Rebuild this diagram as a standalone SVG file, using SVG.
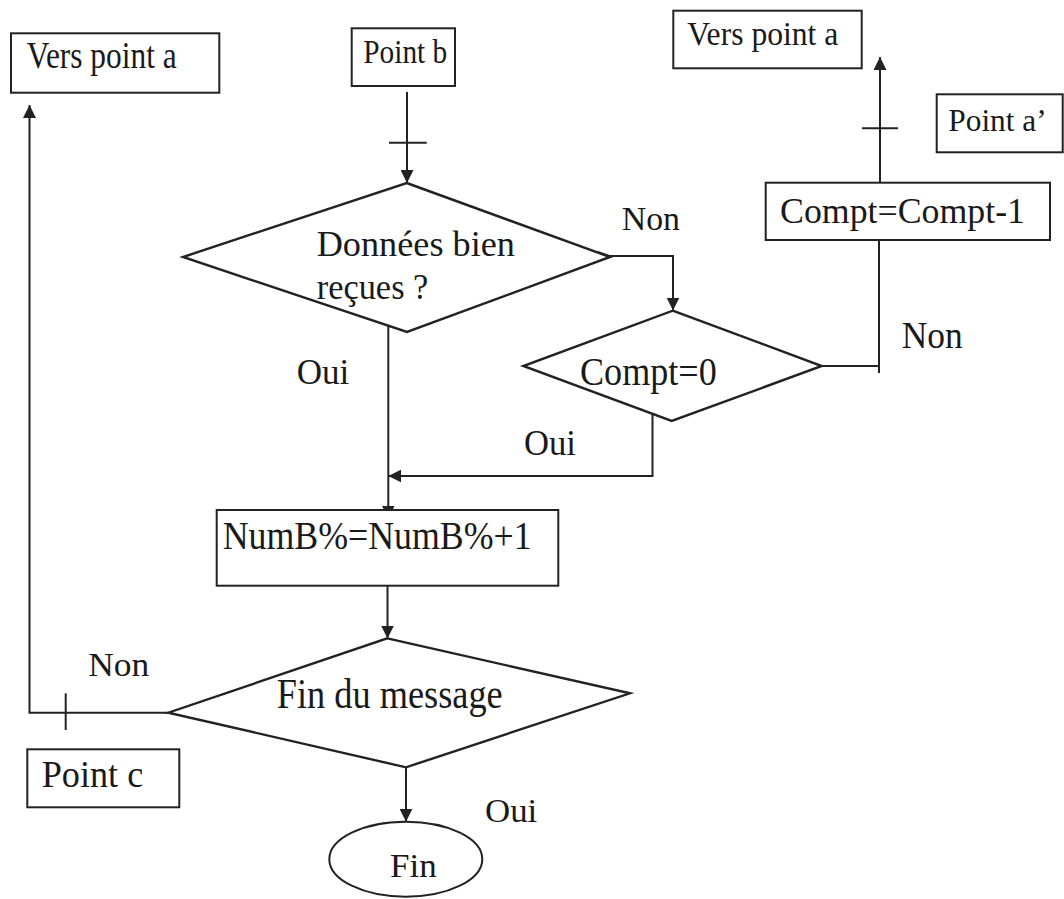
<svg xmlns="http://www.w3.org/2000/svg" width="1064" height="899" viewBox="0 0 1064 899">
  <style>
    .shape { fill: #ffffff; stroke: #222222; stroke-width: 2; }
    .dia { fill: #ffffff; stroke: #222222; stroke-width: 2.4; stroke-linejoin: miter; }
    .wire { fill: none; stroke: #222222; stroke-width: 2; }
    .tick { fill: none; stroke: #222222; stroke-width: 2; }
    .head { fill: #222222; stroke: none; }
    text { font-family: "Liberation Serif", "Times New Roman", serif; fill: #1a1a1a; }
  </style>
  <defs>
    <marker id="arrow" viewBox="0 0 10 10" refX="10" refY="5" markerUnits="userSpaceOnUse" markerWidth="13" markerHeight="13" orient="auto">
      <path d="M0,0 L10,5 L0,10 z" fill="#222222"/>
    </marker>
  </defs>

  <!-- connectors -->
  <g id="connectors">
    <!-- Point b into the first test -->
    <line class="wire" x1="407" y1="92" x2="407" y2="183" marker-end="url(#arrow)"/>
    <line class="tick" x1="389" y1="142.7" x2="426.7" y2="142.7"/>
    <!-- Non: first test to Compt=0 -->
    <path class="wire" d="M610,256 H673 V310.5" marker-end="url(#arrow)"/>
    <path class="head" d="M598,251 L614,256.5 L598,262 z"/>
    <!-- Non: Compt=0 up to Compt=Compt-1 -->
    <path class="wire" d="M822,366 H879 V240"/>
    <line class="wire" x1="879" y1="366" x2="879" y2="373"/>
    <path class="head" d="M808,360.5 L824,366 L808,371.5 z"/>
    <!-- Compt=Compt-1 up to Vers point a -->
    <line class="wire" x1="880" y1="183" x2="880" y2="57" marker-end="url(#arrow)"/>
    <line class="tick" x1="862" y1="128.3" x2="898" y2="128.3"/>
    <!-- Oui: first test down to NumB -->
    <line class="wire" x1="388.3" y1="325.6" x2="388.3" y2="518.5" marker-end="url(#arrow)"/>
    <!-- Oui: Compt=0 back to the main line -->
    <path class="wire" d="M652.5,414 V476 H388.3" marker-end="url(#arrow)"/>
    <!-- NumB to Fin du message -->
    <line class="wire" x1="387.5" y1="585.7" x2="387.5" y2="638.5" marker-end="url(#arrow)"/>
    <!-- Non: Fin du message back to Vers point a -->
    <path class="wire" d="M168.3,712.7 H29.5 V105" marker-end="url(#arrow)"/>
    <line class="tick" x1="65.7" y1="693.3" x2="65.7" y2="730"/>
    <!-- Oui: Fin du message to Fin -->
    <line class="wire" x1="406" y1="767.3" x2="406" y2="821.7" marker-end="url(#arrow)"/>
  </g>

  <g id="vers-point-a-left">
    <rect class="shape" x="11" y="33.3" width="208.3" height="59.4"/>
    <text x="26.7" y="68.3" font-size="38" textLength="150" lengthAdjust="spacingAndGlyphs">Vers point a</text>
  </g>

  <g id="point-b">
    <rect class="shape" x="351.7" y="28.3" width="103.3" height="57.7"/>
    <text x="363.3" y="62.7" font-size="34" textLength="84" lengthAdjust="spacingAndGlyphs">Point b</text>
  </g>

  <g id="vers-point-a-right">
    <rect class="shape" x="673.3" y="10.7" width="188.4" height="57.6"/>
    <text x="687.3" y="45" font-size="34" textLength="151" lengthAdjust="spacingAndGlyphs">Vers point a</text>
  </g>

  <g id="point-a-prime">
    <rect class="shape" x="936.7" y="94.3" width="126" height="58"/>
    <text x="948.3" y="131" font-size="32" textLength="98.4" lengthAdjust="spacingAndGlyphs">Point a’</text>
  </g>

  <g id="decrement">
    <rect class="shape" x="765.7" y="182.7" width="284.3" height="57.3"/>
    <text x="780" y="222.7" font-size="35" textLength="245" lengthAdjust="spacingAndGlyphs">Compt=Compt-1</text>
  </g>

  <g id="test-received">
    <polygon class="dia" points="406.7,183 610,257 407,332 183,257"/>
    <text x="316.7" y="256" font-size="35" textLength="198.3" lengthAdjust="spacingAndGlyphs">Données bien</text>
    <text x="316.7" y="298.5" font-size="35" textLength="111.7" lengthAdjust="spacingAndGlyphs">reçues ?</text>
  </g>

  <g id="test-counter">
    <polygon class="dia" points="672.7,310.7 821.7,366 671.7,421 523.3,366"/>
    <text x="580" y="385" font-size="40" textLength="136.7" lengthAdjust="spacingAndGlyphs">Compt=0</text>
  </g>

  <g id="increment">
    <rect class="shape" x="216.7" y="510" width="341.6" height="75.7"/>
    <text x="222.7" y="549" font-size="40" textLength="309" lengthAdjust="spacingAndGlyphs">NumB%=NumB%+1</text>
  </g>

  <g id="test-end">
    <polygon class="dia" points="387.3,638.3 630,693.3 406,767.3 168.3,712.7"/>
    <text x="276.7" y="708.3" font-size="42" textLength="226" lengthAdjust="spacingAndGlyphs">Fin du message</text>
  </g>

  <g id="point-c">
    <rect class="shape" x="27.3" y="749.3" width="152" height="58"/>
    <text x="41.7" y="787.3" font-size="37" textLength="101.6" lengthAdjust="spacingAndGlyphs">Point c</text>
  </g>

  <g id="fin">
    <ellipse class="shape" cx="405.8" cy="859.2" rx="76.5" ry="37.5"/>
    <text x="390" y="877" font-size="34" textLength="46.7" lengthAdjust="spacingAndGlyphs">Fin</text>
  </g>

  <g id="branch-labels">
    <text x="621.7" y="230" font-size="34" textLength="58.3" lengthAdjust="spacingAndGlyphs">Non</text>
    <text x="296.7" y="384.3" font-size="36" textLength="52.6" lengthAdjust="spacingAndGlyphs">Oui</text>
    <text x="901.7" y="348.3" font-size="38" textLength="61" lengthAdjust="spacingAndGlyphs">Non</text>
    <text x="524" y="455" font-size="35" textLength="52" lengthAdjust="spacingAndGlyphs">Oui</text>
    <text x="88.3" y="675.7" font-size="34" textLength="61" lengthAdjust="spacingAndGlyphs">Non</text>
    <text x="485" y="821.7" font-size="33" textLength="52.3" lengthAdjust="spacingAndGlyphs">Oui</text>
  </g>
</svg>
